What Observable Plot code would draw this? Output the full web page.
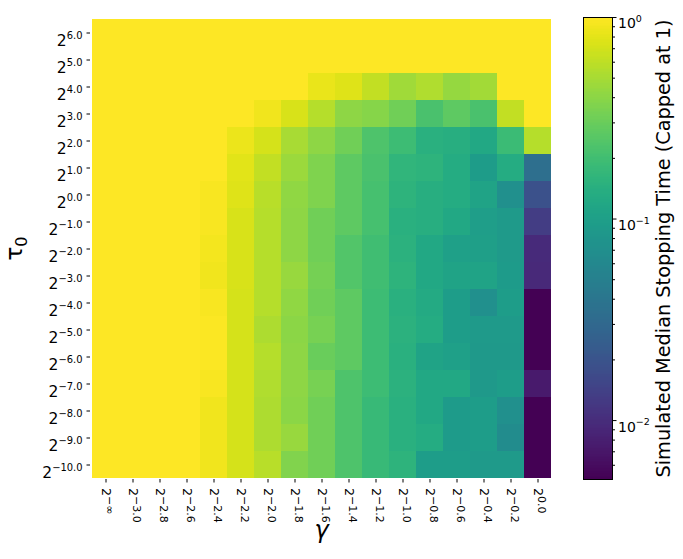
<!DOCTYPE html>
<html><head><meta charset="utf-8">
<script src="https://cdn.jsdelivr.net/npm/d3@7"></script>
<script src="https://cdn.jsdelivr.net/npm/@observablehq/plot@0.6"></script>
<style>
body{margin:0;background:#fff;font-family:"DejaVu Sans",sans-serif;}
#wrap{position:relative;width:683px;height:559px;overflow:hidden;}
#main,#cbar{position:absolute;top:0;}
#main{left:0;} #cbar{left:560px;}
</style></head><body>
<div id="wrap"><div id="main"></div><div id="cbar"></div></div>
<script>
// gamma exponents (columns) and tau0 exponents (rows)
const gammaExp = ["−∞","−3.0","−2.8","−2.6","−2.4","−2.2","−2.0","−1.8","−1.6","−1.4","−1.2","−1.0","−0.8","−0.6","−0.4","−0.2","0.0"];
const tauExp = ["6.0","5.0","4.0","3.0","2.0","1.0","0.0","−1.0","−2.0","−3.0","−4.0","−5.0","−6.0","−7.0","−8.0","−9.0","−10.0"];

// simulated median stopping time (capped at 1), one array per tau0 row
const tau_p6  = [1,1,1,1,1,1,1,1,1,1,1,1,1,1,1,1,1];
const tau_p5  = [1,1,1,1,1,1,1,1,1,1,1,1,1,1,1,1,1];
const tau_p4  = [1,1,1,1,1,1,1,1,0.84,0.77,0.62,0.47,0.53,0.43,0.48,1,1];
const tau_p3  = [1,1,1,1,1,1,0.9,0.73,0.56,0.41,0.38,0.32,0.22,0.27,0.22,0.62,1];
const tau_p2  = [1,1,1,1,1,0.85,0.71,0.5,0.41,0.32,0.23,0.19,0.145,0.14,0.12,0.185,0.56];
const tau_p1  = [1,1,1,1,1,0.79,0.62,0.45,0.36,0.27,0.22,0.16,0.155,0.13,0.092,0.13,0.034];
const tau_0   = [1,1,1,1,0.95,0.77,0.57,0.42,0.36,0.27,0.21,0.155,0.14,0.13,0.11,0.071,0.019];
const tau_m1  = [1,1,1,1,0.95,0.73,0.56,0.41,0.32,0.27,0.21,0.145,0.14,0.12,0.097,0.088,0.013];
const tau_m2  = [1,1,1,1,0.92,0.73,0.55,0.41,0.32,0.24,0.2,0.15,0.12,0.1,0.099,0.088,0.0095];
const tau_m3  = [1,1,1,1,0.9,0.73,0.55,0.44,0.33,0.24,0.2,0.155,0.12,0.11,0.11,0.09,0.0093];
const tau_m4  = [1,1,1,1,0.95,0.71,0.56,0.42,0.32,0.27,0.19,0.145,0.125,0.095,0.07,0.095,0.005];
const tau_m5  = [1,1,1,1,0.97,0.71,0.52,0.4,0.34,0.27,0.19,0.15,0.13,0.095,0.088,0.088,0.005];
const tau_m6  = [1,1,1,1,0.97,0.71,0.55,0.41,0.3,0.27,0.19,0.145,0.11,0.1,0.087,0.087,0.005];
const tau_m7  = [1,1,1,1,0.95,0.71,0.53,0.41,0.34,0.23,0.19,0.15,0.12,0.12,0.087,0.095,0.0073];
const tau_m8  = [1,1,1,1,0.9,0.71,0.52,0.4,0.32,0.23,0.18,0.145,0.12,0.09,0.095,0.07,0.005];
const tau_m9  = [1,1,1,1,0.9,0.71,0.52,0.44,0.32,0.23,0.18,0.145,0.13,0.09,0.095,0.065,0.005];
const tau_m10 = [1,1,1,1,0.9,0.71,0.57,0.37,0.32,0.23,0.18,0.155,0.095,0.095,0.088,0.088,0.005];

const colorDomain = [0.0051, 1];
const cbarMajor = [1, 0.1, 0.01];
const cbarMajorExp = ["0", "−1", "−2"];
const cbarMinor = [0.006,0.007,0.008,0.009,0.02,0.03,0.04,0.05,0.06,0.07,0.08,0.09,0.2,0.3,0.4,0.5,0.6,0.7,0.8,0.9];

const rows = [tau_p6,tau_p5,tau_p4,tau_p3,tau_p2,tau_p1,tau_0,tau_m1,tau_m2,tau_m3,tau_m4,tau_m5,tau_m6,tau_m7,tau_m8,tau_m9,tau_m10];
const cells = [];
rows.forEach((row, i) => row.forEach((v, j) => cells.push({tau: tauExp[i], gamma: gammaExp[j], v})));

const colorSpec = {type: "log", scheme: "viridis", domain: colorDomain, clamp: true};
const FONT = "DejaVu Sans";

const main = Plot.plot({
  width: 575, height: 559,
  marginLeft: 90, marginRight: 23, marginTop: 17, marginBottom: 80,
  style: {fontFamily: FONT, background: "transparent", overflow: "visible"},
  x: {type: "band", domain: gammaExp, padding: 0, label: null},
  y: {type: "band", domain: tauExp, padding: 0, label: null},
  color: colorSpec,
  marks: [
    Plot.cell(cells, {x: "gamma", y: "tau", fill: "v", inset: 0, shapeRendering: "crispEdges"}),
    Plot.axisX({tickSize: 3.5, tickPadding: 5, tickRotate: 90, tickFormat: d => "2^" + d, fontSize: 12.5, label: null, stroke: "black"}),
    Plot.axisY({tickSize: 3.5, tickPadding: 4.5, tickFormat: d => "2^" + d, fontSize: 15.5, label: null, stroke: "black"}),
    Plot.text(["γ"], {frameAnchor: "bottom", dy: 58, fontSize: 24, fontStyle: "italic", fill: "black"}),
    Plot.text(["τ_0"], {frameAnchor: "left", dx: -76, rotate: -90, fontSize: 23, fill: "black", textAnchor: "middle"})
  ]
});
document.getElementById("main").appendChild(main);

const logLo = Math.log10(colorDomain[0]), logHi = Math.log10(colorDomain[1]);
const nSteps = 300;
const ramp = d3.range(nSteps).map(i => ({
  a: Math.pow(10, logLo + (logHi - logLo) * i / nSteps),
  b: Math.pow(10, logLo + (logHi - logLo) * (i + 1) / nSteps),
  m: Math.pow(10, logLo + (logHi - logLo) * (i + 0.5) / nSteps)
}));

const cbar = Plot.plot({
  width: 123, height: 559,
  marginLeft: 23, marginRight: 71, marginTop: 17, marginBottom: 80,
  style: {fontFamily: FONT, background: "transparent", overflow: "visible"},
  x: {domain: [0, 1], axis: null},
  y: {type: "log", domain: colorDomain, label: null, axis: null},
  color: colorSpec,
  marks: [
    Plot.rect(ramp, {x1: () => 0, x2: () => 1, y1: "a", y2: "b", fill: "m", shapeRendering: "crispEdges"}),
    Plot.frame({stroke: "black", strokeWidth: 1}),
    Plot.axisY({anchor: "right", ticks: cbarMinor, tickSize: 2, tickFormat: () => "", stroke: "black"}),
    Plot.axisY({anchor: "right", ticks: cbarMajor, tickSize: 3.5, tickPadding: 2, fontSize: 14,
      tickFormat: d => "10^" + cbarMajorExp[cbarMajor.indexOf(d)], stroke: "black"}),
    Plot.text(["Simulated Median Stopping Time (Capped at 1)"], {frameAnchor: "right", dx: 51, rotate: -90, fontSize: 19.3, fill: "black", textAnchor: "middle"})
  ]
});
document.getElementById("cbar").appendChild(cbar);

function mathify(root, sel, expScale, shift, textDy) {
  d3.select(root).selectAll(sel).each(function() {
    const raw = this.textContent;
    const m = raw.match(/^(.*?)([\^_])(.*)$/);
    if (!m) return;
    const fs = parseFloat(getComputedStyle(this).fontSize);
    const isSub = m[2] === "_";
    const el = d3.select(this);
    this.textContent = "";
    el.append("tspan").text(m[1]);
    el.append("tspan").attr("font-size", (fs * expScale).toFixed(2)).attr("dy", (isSub ? 1 : -1) * fs * shift).attr("font-style", "normal").text(m[3]);
    if (textDy != null) el.attr("dy", textDy);
  });
}
mathify(main, 'g[aria-label="y-axis tick label"] text', 0.64, 0.45, "7.8");
mathify(main, 'g[aria-label="x-axis tick label"] text', 0.88, 0.3, null);
mathify(main, 'g[aria-label="text"] text', 0.7, 0.22, null);
mathify(cbar, 'g[aria-label="y-axis tick label"] text', 0.68, 0.45, "6.5");
</script>
</body></html>
